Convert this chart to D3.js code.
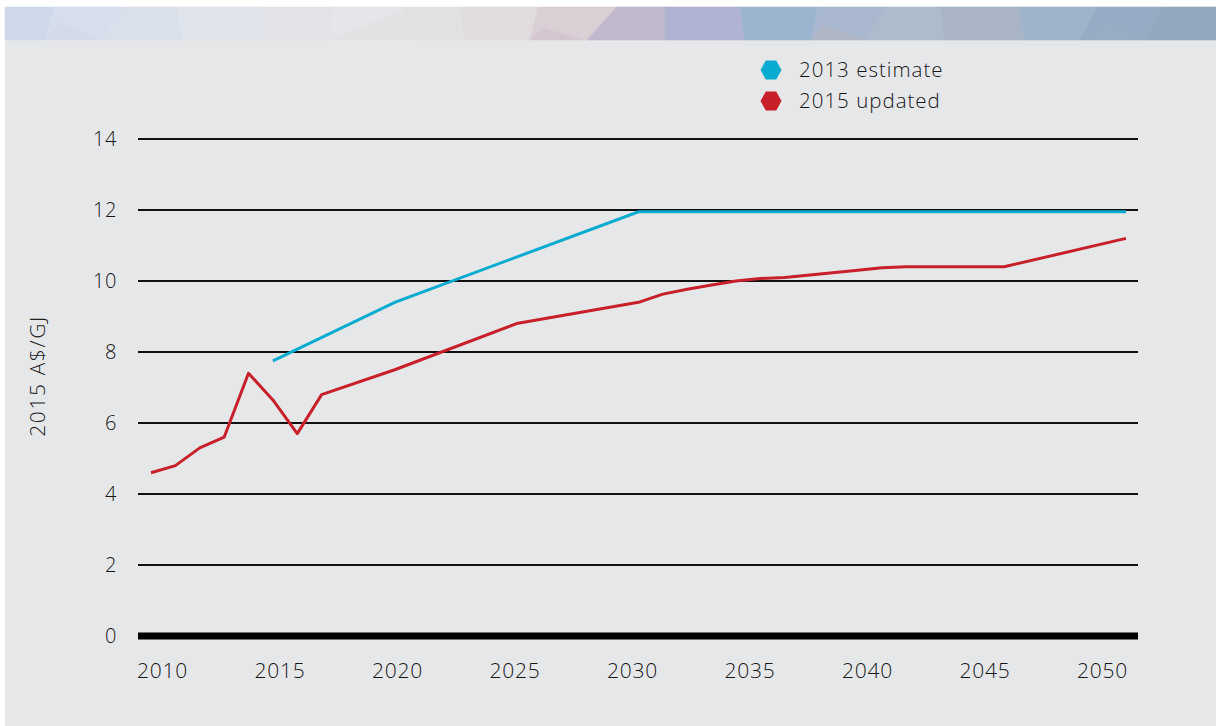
<!DOCTYPE html>
<html>
<head>
<meta charset="utf-8">
<script src="https://cdn.jsdelivr.net/npm/d3@7"></script>
<style>
html,body{margin:0;padding:0;background:#fff;}
svg{display:block;}
text{font-family:"Open Sans","Noto Sans",sans-serif;font-weight:300;}
</style>
</head>
<body>
<svg id="chart" width="1216" height="726"></svg>
<script>
// ---- data ----
const updatedYears  = [2010,2011,2012,2013,2014,2015,2016,2017,2020,2025,2030,2031,2032,2033,2034,2035,2036,2039,2040,2041,2045,2050];
const updatedValues = [4.6, 4.8, 5.3, 5.6, 7.4, 6.65,5.7, 6.8, 7.5, 8.8, 9.4, 9.63,9.77,9.89,10.0,10.07,10.1,10.3,10.37,10.4,10.4,11.2];
const estimateYears  = [2015,2020,2030,2050];
const estimateValues = [7.75,9.4,11.95,11.95];
const yTicks = [0,2,4,6,8,10,12,14];
const xTicks = [2010,2015,2020,2025,2030,2035,2040,2045,2050];
const seriesNames = ["2013 estimate","2015 updated"];
const seriesColors = ["#0aabd0","#c8202a"];
const yTitle = "2015 A$/GJ";

// decorative banner polygons [topLeftX, topRightX, bottomRightX, bottomLeftX, color]
const bannerQuads = [
  [5,55,45,5,"#cfd9ea"],
  [55,123,100,45,"#d6ddec"],
  [123,177,182,100,"#d9dfeb"],
  [177,257,262,182,"#dfe3ec"],
  [257,333,330,262,"#e2e4ea"],
  [333,400,420,330,"#e5e6ea"],
  [400,460,465,420,"#e1e1e2"],
  [460,538,530,465,"#e0dbde"],
  [538,665,585,530,"#dacfd5"],
  [617,665,665,587,"#c3b9cf"],
  [665,740,745,665,"#b0b3d2"],
  [740,818,812,745,"#9bb5d0"],
  [818,888,865,812,"#a9b8cf"],
  [888,940,945,865,"#aebbcc"],
  [940,1018,1025,945,"#a9b5c6"],
  [1018,1098,1080,1025,"#9fb4ca"],
  [1098,1163,1145,1080,"#96abc4"],
  [1163,1216,1216,1145,"#93a8bd"]
];
const bannerTris = [
  [[45,40],[60,22],[100,40],"#d3dbe9"],
  [[330,40],[400,12],[420,40],"#e2e2e3"],
  [[530,40],[543,28],[585,40],"#d4c5cf"],
  [[812,40],[822,25],[865,40],"#b1b6c6"],
  [[1080,40],[1110,22],[1145,40],"#98adc4"]
];

// ---- layout ----
const svg = d3.select("#chart");
svg.append("rect").attr("x",5).attr("y",7).attr("width",1211).attr("height",719).attr("fill","#e6e7e9");

const bannerTop = 7, bannerBot = 40;
svg.append("g").selectAll("polygon").data(bannerQuads).join("polygon")
  .attr("points", d => `${d[0]},${bannerTop} ${d[1]},${bannerTop} ${d[2]},${bannerBot} ${d[3]},${bannerBot}`)
  .attr("fill", d => d[4]).attr("stroke", d => d[4]).attr("stroke-width",0.6);
svg.append("g").selectAll("polygon").data(bannerTris).join("polygon")
  .attr("points", d => d.slice(0,3).map(p=>p.join(",")).join(" "))
  .attr("fill", d => d[3]);

const x = d3.scaleLinear().domain([2010,2050]).range([151,1126]);
const xLabel = d3.scaleLinear().domain([2010,2050]).range([162,1102]);
const y = d3.scaleLinear().domain([0,14]).range([636,139]);
const gridLeft = 138, gridRight = 1138;

// grid
svg.append("g").selectAll("line").data(yTicks.filter(t=>t>0)).join("line")
  .attr("x1",gridLeft).attr("x2",gridRight)
  .attr("y1",d=>y(d)).attr("y2",d=>y(d))
  .attr("stroke","#111").attr("stroke-width",2);
svg.append("line").attr("x1",gridLeft).attr("x2",gridRight)
  .attr("y1",y(0)).attr("y2",y(0)).attr("stroke","#000").attr("stroke-width",7);

// y axis labels
const yAxis = d3.axisLeft(y).tickValues(yTicks).tickSize(0).tickPadding(0).tickFormat(d3.format("d"));
const gy = svg.append("g").attr("transform","translate(117,0)").call(yAxis);
gy.select(".domain").remove();
gy.selectAll("text").attr("font-size",20).attr("fill","#161616").attr("font-family","'Open Sans', sans-serif").attr("font-weight",300).attr("letter-spacing",0.6).attr("dy","0.32em");

// x axis labels
const xAxis = d3.axisBottom(xLabel).tickValues(xTicks).tickSize(0).tickPadding(0).tickFormat(d3.format("d"));
const gx = svg.append("g").attr("transform","translate(0,663)").call(xAxis);
gx.select(".domain").remove();
gx.selectAll("text").attr("font-size",21).attr("fill","#161616").attr("font-family","'Open Sans', sans-serif").attr("font-weight",300).attr("letter-spacing",0.8).attr("dy","0.71em");

// y title
svg.append("text").attr("transform","translate(45,376) rotate(-90)")
  .attr("text-anchor","middle").attr("font-size",21).attr("letter-spacing",1.6).attr("fill","#222").text(yTitle);

// lines
const line = d3.line().x(d=>x(d[0])).y(d=>y(d[1]));
svg.append("path").datum(estimateYears.map((yr,i)=>[yr,estimateValues[i]]))
  .attr("d",line).attr("fill","none").attr("stroke",seriesColors[0]).attr("stroke-width",3);
svg.append("path").datum(updatedYears.map((yr,i)=>[yr,updatedValues[i]]))
  .attr("d",line).attr("fill","none").attr("stroke",seriesColors[1]).attr("stroke-width",3).attr("stroke-linejoin","round");

// legend
const hex = (cx,cy,w,h) => {
  const q = w*0.25;
  return [[cx-w/2,cy],[cx-q,cy-h/2],[cx+q,cy-h/2],[cx+w/2,cy],[cx+q,cy+h/2],[cx-q,cy+h/2]].map(p=>p.join(",")).join(" ");
};
const lg = svg.append("g").selectAll("g").data(seriesNames).join("g")
  .attr("transform",(d,i)=>`translate(0,${70+i*31})`);
lg.append("polygon").attr("points",hex(771,0,21,19)).attr("fill",(d,i)=>seriesColors[i]);
lg.append("text").attr("x",799).attr("y",0).attr("dy","0.35em").attr("font-size",20.5).attr("letter-spacing",1.0).attr("fill","#161616").text(d=>d);
</script>
</body>
</html>
